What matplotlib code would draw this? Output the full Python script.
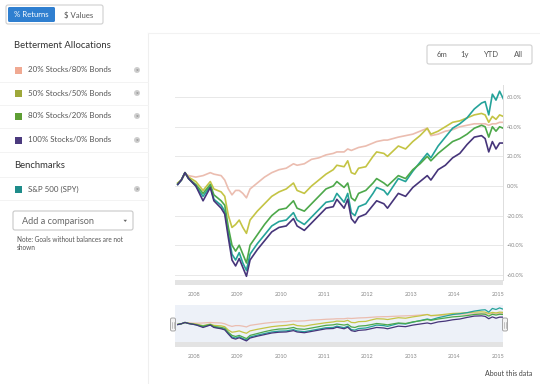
import matplotlib
matplotlib.use("Agg")
import numpy as np
import matplotlib.pyplot as plt
from matplotlib.patches import Rectangle, FancyBboxPatch, Circle, Polygon

plt.rcParams['font.family'] = ['Lato', 'DejaVu Sans']

# data (cumulative % return, one value per month)
months = ["2007-08", "2007-09", "2007-10", "2007-11", "2008-01", "2008-03", "2008-05", "2008-06",
          "2008-08", "2008-09", "2008-10", "2008-11", "2008-12", "2009-01", "2009-02", "2009-03",
          "2009-04", "2009-06", "2009-08", "2009-10", "2009-12", "2010-02", "2010-04", "2010-05",
          "2010-07", "2010-09", "2010-11", "2011-01", "2011-03", "2011-04", "2011-06", "2011-07",
          "2011-08", "2011-09", "2011-10", "2011-12", "2012-02", "2012-03", "2012-05", "2012-06",
          "2012-09", "2012-11", "2013-01", "2013-03", "2013-05", "2013-06", "2013-08", "2013-10",
          "2013-12", "2014-02", "2014-04", "2014-06", "2014-08", "2014-09", "2014-10", "2014-11",
          "2014-12", "2015-01", "2015-02"]

stocks_20 = [2, 4, 8, 7, 6, 7, 9, 8, 7, 4, -2, -6, -3, -3, -5, -8,
             -2, 2, 6, 9, 11, 12, 15, 14, 15, 18, 19, 21, 22, 23, 23, 25,
             24, 25, 26, 27, 29, 30, 31, 31, 33, 34, 35, 37, 39, 34, 35, 37,
             38, 40, 41, 42, 42, 42, 41, 42, 42, 43, 43]
stocks_50 = [2, 4, 9, 6, 3, -3, 3, -2, -4, -7, -20, -28, -26, -23, -28, -32,
             -23, -17, -12, -7, -4, -2, 2, -3, -5, 0, 4, 8, 11, 14, 13, 17,
             9, 8, 12, 13, 20, 23, 22, 20, 27, 25, 30, 34, 39, 35, 37, 40,
             43, 44, 46, 48, 49, 48, 43, 47, 45, 48, 47]
stocks_80 = [1.5, 4, 9, 5, 1, -5, 1, -6, -10, -13, -28, -40, -44, -40, -46, -52,
             -40, -33, -26, -20, -16, -15, -10, -15, -17, -12, -7, -2, 0, 3, -1, 2,
             -8, -10, -5, -3, 2, 5, 2, 0, 7, 5, 11, 15, 20, 17, 22, 26,
             30, 32, 35, 39, 41, 40, 33, 40, 37, 40, 39]
stocks_100 = [1, 4, 9, 5, 0, -10, -1, -10, -15, -19, -35, -50, -54, -49, -55, -61,
              -50, -43, -37, -31, -28, -27, -22, -27, -30, -25, -20, -15, -14, -9, -15, -9,
              -22, -25, -21, -19, -13, -10, -12, -15, -5, -7, -1, 3, 7, 4, 11, 14,
              19, 22, 28, 33, 34, 32, 23, 30, 25, 29, 29]
spy = [1, 4, 9, 5, 0, -7, 0, -9, -13, -17, -32, -46, -50, -45, -52, -57,
       -46, -39, -33, -27, -24, -23, -18, -23, -26, -21, -16, -11, -10, -5, -11, -5,
       -18, -20, -14, -12, -5, -1, -3, -6, 5, 3, 10, 16, 22, 19, 27, 33,
       39, 42, 46, 52, 56, 57, 48, 62, 58, 64, 59]

allocation_names = ["20% Stocks/80% Bonds", "50% Stocks/50% Bonds",
                    "80% Stocks/20% Bonds", "100% Stocks/0% Bonds"]
benchmark_names = ["S&P 500 (SPY)"]
swatch_colors = ["#F0A992", "#9EA83A", "#5E9E34", "#4B3A7E", "#1E8C8A"]
line_colors = ["#EBBDB0", "#C4C444", "#4DA84A", "#46357A", "#25A39A"]
years = list(range(2008, 2016))
pct_ticks = [-60, -40, -20, 0, 20, 40, 60]
range_buttons = ["6m", "1y", "YTD", "All"]

t = np.array([int(m[:4]) + (int(m[5:]) - 0.5) / 12 for m in months])
all_series = [stocks_20, stocks_50, stocks_80, stocks_100, spy]
draw_order = [0, 1, 4, 2, 3]

W, H = 540, 384


def box(x0, y0, x1, y1):
    return [x0 / W, 1 - y1 / H, (x1 - x0) / W, (y1 - y0) / H]


fig = plt.figure(figsize=(5.4, 3.84), dpi=100)

# background / UI layer in pixel coordinates
ui = fig.add_axes([0, 0, 1, 1], zorder=0)
ui.set_xlim(0, W)
ui.set_ylim(H, 0)
ui.axis('off')

# separators
ui.plot([148, 148], [33, H], color="#EFEFEF", lw=0.8)
ui.plot([148, W], [33, 33], color="#F2F2F2", lw=0.8)
for yy in [82, 105, 128, 152, 177, 200]:
    ui.plot([0, 148], [yy, yy], color="#F3F3F3", lw=0.7)

# toggle buttons
ui.add_patch(FancyBboxPatch((6, 5), 97, 19, boxstyle="round,pad=0,rounding_size=2",
                            fc="white", ec="#CFCFCF", lw=0.8))
ui.add_patch(FancyBboxPatch((8, 7), 47, 15, boxstyle="round,pad=0,rounding_size=1.5",
                            fc="#2F7FD0", ec="none"))
ui.text(31.5, 14.8, "% Returns", color="white", fontsize=5.6, ha="center", va="center")
ui.text(79, 14.8, "$ Values", color="#555555", fontsize=5.6, ha="center", va="center")

# sidebar legend
ui.text(14, 46, "Betterment Allocations", color="#333333", fontsize=6.8, va="center")
rows = [70, 93, 116, 140]
for i, name in enumerate(allocation_names):
    ui.add_patch(Rectangle((14.5, rows[i] - 3.5), 7, 7, fc=swatch_colors[i], ec="none"))
    ui.text(28, rows[i], name, color="#555555", fontsize=5.7, va="center")
    ui.add_patch(Circle((137, rows[i]), 3.0, fc="#CFCFCF", ec="none"))
    ui.text(137, rows[i], "×", color="#777777", fontsize=3.6, ha="center", va="center")

ui.text(14, 165, "Benchmarks", color="#333333", fontsize=6.8, va="center")
for i, name in enumerate(benchmark_names):
    yy = 189 + 23 * i
    ui.add_patch(Rectangle((14.5, yy - 3.5), 7, 7, fc=swatch_colors[4 + i], ec="none"))
    ui.text(28, yy, name, color="#555555", fontsize=5.7, va="center")
    ui.add_patch(Circle((137, yy), 3.0, fc="#CFCFCF", ec="none"))
    ui.text(137, yy, "×", color="#777777", fontsize=3.6, ha="center", va="center")

ui.add_patch(FancyBboxPatch((13, 211), 120, 19, boxstyle="round,pad=0,rounding_size=2",
                            fc="white", ec="#C8C8C8", lw=0.8))
ui.text(22, 221, "Add a comparison", color="#666666", fontsize=6.6, va="center")
ui.add_patch(Polygon([[123.5, 219.8], [127, 219.8], [125.25, 222]], fc="#666666", ec="none"))
ui.text(17, 239, "Note: Goals without balances are not", color="#555555", fontsize=4.7, va="center")
ui.text(17, 248, "shown", color="#555555", fontsize=4.7, va="center")

# range buttons
ui.add_patch(FancyBboxPatch((427, 45), 105, 19, boxstyle="round,pad=0,rounding_size=2",
                            fc="white", ec="#D0D0D0", lw=0.8))
for lbl, xx in zip(range_buttons, [442, 465, 491, 518]):
    ui.text(xx, 54.5, lbl, color="#555555", fontsize=5.6, ha="center", va="center")

# gray bands
ui.add_patch(Rectangle((175, 280), 328, 5, fc="#E3E3E3", ec="none"))
ui.add_patch(Rectangle((175, 342), 328, 5, fc="#E3E3E3", ec="none"))

ui.text(532, 373, "About this data", color="#444444", fontsize=5.0, ha="right", va="center")

# main chart
ax = fig.add_axes(box(175, 85, 503, 280), zorder=2)
ax.patch.set_alpha(0)
for k in draw_order:
    ax.plot(t, all_series[k], color=line_colors[k], lw=1.2)
ax.set_xlim(2007.562, 2015.12)
ax.set_ylim(-63.5, 68.2)
ax.set_yticks(pct_ticks)
ax.set_yticklabels([f"{v:.1f}%" for v in pct_ticks])
ax.yaxis.tick_right()
ax.set_xticks(years)
ax.set_xticklabels([str(y) for y in years])
ax.tick_params(axis="y", length=0, pad=2.5, labelsize=4.0, labelcolor="#888888")
ax.tick_params(axis="x", length=0, pad=9, labelsize=4.0, labelcolor="#888888")
ax.grid(axis="y", color="#E8E8E8", lw=0.7)
for s in ["top", "left", "bottom"]:
    ax.spines[s].set_visible(False)
ax.spines["right"].set_color("#DDDDDD")
ax.spines["right"].set_linewidth(0.7)

# navigator
nav = fig.add_axes(box(175, 305, 503, 342), zorder=2)
nav.set_facecolor("#EDF1F8")
for k in draw_order:
    nav.plot(t, all_series[k], color=line_colors[k], lw=0.9)
nav.set_xlim(2007.562, 2015.12)
nav.set_ylim(-65, 75)
nav.set_yticks([])
nav.set_xticks(years)
nav.set_xticklabels([str(y) for y in years])
nav.tick_params(axis="x", length=0, pad=9, labelsize=4.0, labelcolor="#888888")
for s in nav.spines.values():
    s.set_visible(False)

# navigator handles
fg = fig.add_axes([0, 0, 1, 1], zorder=5)
fg.set_xlim(0, W)
fg.set_ylim(H, 0)
fg.axis('off')
for hx in [173, 505]:
    fg.add_patch(FancyBboxPatch((hx - 2.5, 318), 5, 13, boxstyle="round,pad=0,rounding_size=1.5",
                                fc="#F4F4F4", ec="#999999", lw=0.6))
    fg.plot([hx - 0.7, hx - 0.7], [321.5, 327.5], color="#999999", lw=0.4)
    fg.plot([hx + 0.7, hx + 0.7], [321.5, 327.5], color="#999999", lw=0.4)

fig.savefig("out.png", dpi=100)
